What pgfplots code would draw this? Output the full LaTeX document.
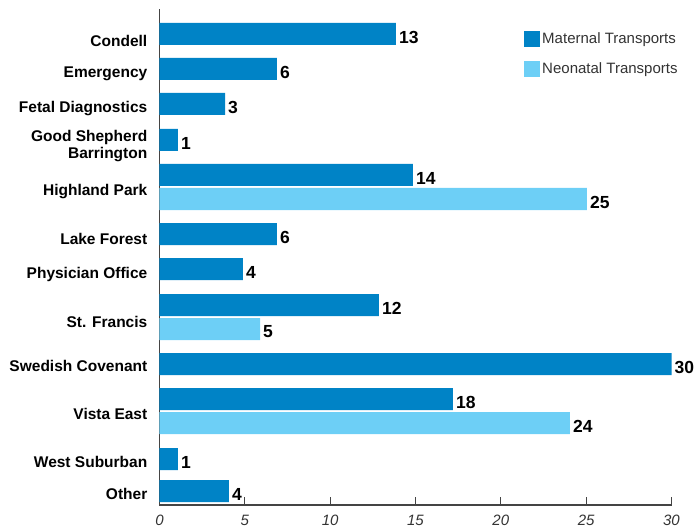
\documentclass[border=0pt]{standalone}
\usepackage{fontspec}
\setmainfont{Liberation Sans}
\usepackage{pgfplots}
\pgfplotsset{compat=1.18}
\definecolor{maternal}{HTML}{0083C6}
\definecolor{neonatal}{HTML}{6DCFF6}
\definecolor{axisgray}{HTML}{444444}

\begin{document}
\begin{tikzpicture}
\begin{axis}[
  scale only axis, width=512pt, height=496pt,
  xmin=0, xmax=30, ymin=-505, ymax=-9,
  axis lines*=left,
  axis line style={axisgray, line width=1.3pt},
  xbar, bar shift=0pt, bar width=22,
  xtick={0,5,...,30},
  tick align=inside, major tick length=8pt,
  tick style={axisgray, line width=1pt},
  ytick style={draw=none},
  xticklabel style={font=\fontsize{15}{15}\selectfont\itshape, text=black!80, inner sep=0pt, yshift=-10pt},
  ytick={-494,-462,-414,-366,-322,-274,-239,-192,-146,-109,-74,-41},
  yticklabels={Other, West Suburban, Vista East, Swedish Covenant, St. Francis,
    Physician Office, Lake Forest, Highland Park, {Good Shepherd\\Barrington},
    Fetal Diagnostics, Emergency, Condell},
  yticklabel style={font=\fontsize{15.5}{17}\selectfont\bfseries, align=right, inner sep=0pt, xshift=-12pt},
  /pgf/number format/assume math mode=true,
  point meta=explicit symbolic,
  nodes near coords,
  every node near coord/.style={font=\fontsize{17.5}{18}\selectfont\bfseries, inner sep=0pt, xshift=3pt, yshift=-3pt, anchor=west},
  legend style={at={(0.712,0.956)}, anchor=north west, draw=none, fill=none, inner sep=0pt,
    font=\fontsize{15}{15}\selectfont, text=black!80, row sep=13pt,
    /tikz/every even column/.append style={column sep=4pt}},
  legend cell align=left,
  legend image code/.code={\fill[#1] (0pt,-8pt) rectangle (16pt,8pt);},
]
% maternal transports (bar length as drawn, label as printed)
\addplot[fill=maternal, draw=none] coordinates {
  (13.85,-34)[13] (6.88,-69)[6] (3.84,-104)[3] (1.08,-140)[1]
  (14.85,-175)[14] (6.88,-234)[6] (4.89,-269)[4] (12.86,-305)[12]
  (30,-364)[30] (17.19,-399)[18] (1.08,-459)[1] (4.07,-491)[4]};
% neonatal transports
\addplot[fill=neonatal, draw=none] coordinates {
  (25.04,-199)[25] (5.89,-329)[5] (24.05,-423)[24]};
\legend{Maternal Transports, Neonatal Transports}
\end{axis}
\pgfresetboundingbox
\path[use as bounding box] ([xshift=-159.5pt,yshift=-26pt]current axis.south west) rectangle ++(694pt,531pt);
\end{tikzpicture}
\end{document}
